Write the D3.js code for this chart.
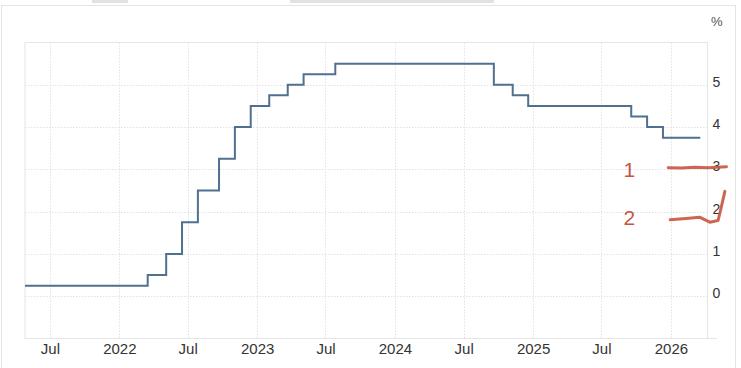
<!DOCTYPE html>
<html>
  <head>
    <meta charset="utf-8" />
    <title>Policy rate step chart</title>
    <script src="https://d3js.org/d3.v7.min.js"></script>
    <style>
      body {
        margin: 0;
        background: #fff;
        font-family: "Liberation Sans", Arial, sans-serif;
      }
      svg {
        display: block;
      }
      .grid line {
        stroke: #e3e3e3;
        stroke-dasharray: 1.5 1.5;
      }
      .tick-label {
        fill: #333;
      }
    </style>
  </head>
  <body>
    <svg width="741" height="368"></svg>

    <script>
      // rate changes (upper bound, %), step-after
      const changeDates = [
        "2021-04-26", "2022-03-17", "2022-05-05", "2022-06-16", "2022-07-28",
        "2022-09-22", "2022-11-03", "2022-12-15", "2023-02-02", "2023-03-23",
        "2023-05-04", "2023-07-27", "2024-09-19", "2024-11-08", "2024-12-19",
        "2025-09-18", "2025-10-30", "2025-12-11", "2026-03-20"
      ];
      const rateValues = [
        0.25, 0.5, 1.0, 1.75, 2.5,
        3.25, 4.0, 4.5, 4.75, 5.0,
        5.25, 5.5, 5.0, 4.75, 4.5,
        4.25, 4.0, 3.75, 3.75
      ];
      const yTicks = [0, 1, 2, 3, 4, 5];
      const xTickDates = [
        "2021-07-01", "2022-01-01", "2022-07-01", "2023-01-01", "2023-07-01",
        "2024-01-01", "2024-07-01", "2025-01-01", "2025-07-01", "2026-01-01"
      ];

      // hand-drawn red marks (date, value)
      const mark1Dates = ["2025-12-25", "2026-01-30", "2026-03-05", "2026-04-10", "2026-05-28"];
      const mark1Values = [3.04, 3.03, 3.05, 3.04, 3.06];
      const mark2Dates = ["2025-12-30", "2026-02-10", "2026-03-18", "2026-04-14", "2026-05-06", "2026-05-13", "2026-05-24"];
      const mark2Values = [1.81, 1.84, 1.87, 1.75, 1.79, 2.05, 2.48];
      const markLabels = ["1", "2"];
      const markLabelDate = "2025-09-13";
      const markLabelValues = [3.0, 1.85];

      const parse = d3.timeParse("%Y-%m-%d");
      const svg = d3.select("svg");

      const plot = { left: 25, right: 707.5, top: 42.5, bottom: 338.5 };

      const x = d3.scaleTime()
        .domain([parse("2021-04-26"), parse("2026-04-08")])
        .range([plot.left, plot.right]);
      const y = d3.scaleLinear()
        .domain([-1, 6])
        .range([plot.bottom, plot.top]);

      // page frame bits
      svg.append("rect")
        .attr("x", 1.5).attr("y", 5.5)
        .attr("width", 734).attr("height", 380)
        .attr("fill", "none").attr("stroke", "#e4e4e4");
      svg.append("rect").attr("x", 92).attr("y", 0).attr("width", 36).attr("height", 3).attr("fill", "#e2e2e2");
      svg.append("rect").attr("x", 290).attr("y", 0).attr("width", 204).attr("height", 3).attr("fill", "#e2e2e2");

      // grid
      const grid = svg.append("g").attr("class", "grid");
      grid.selectAll(".h")
        .data(yTicks)
        .join("line")
        .attr("x1", plot.left).attr("x2", plot.right)
        .attr("y1", d => Math.round(y(d)) + 0.5)
        .attr("y2", d => Math.round(y(d)) + 0.5);
      grid.selectAll(".v")
        .data(xTickDates.map(parse))
        .join("line")
        .attr("y1", plot.top).attr("y2", plot.bottom)
        .attr("x1", d => Math.round(x(d)) + 0.5)
        .attr("x2", d => Math.round(x(d)) + 0.5);

      // frame of plot
      svg.append("rect")
        .attr("x", plot.left).attr("y", plot.top)
        .attr("width", plot.right - plot.left)
        .attr("height", plot.bottom - plot.top)
        .attr("fill", "none")
        .attr("stroke", "#e6e6e6");
      svg.append("line")
        .attr("x1", plot.right).attr("x2", 717)
        .attr("y1", plot.bottom).attr("y2", plot.bottom)
        .attr("stroke", "#e6e6e6");

      // x axis labels
      const fmt = d => d.getMonth() === 0 ? d3.timeFormat("%Y")(d) : d3.timeFormat("%b")(d);
      const xAxis = d3.axisBottom(x)
        .tickValues(xTickDates.map(parse))
        .tickFormat(fmt)
        .tickSize(0)
        .tickPadding(5);
      const xg = svg.append("g")
        .attr("transform", `translate(0, ${plot.bottom})`)
        .call(xAxis);
      xg.select(".domain").remove();
      xg.selectAll("text")
        .attr("class", "tick-label")
        .style("font-size", "15px")
        .style("font-family", "'Liberation Sans', Arial, sans-serif");

      // y axis labels on the right
      const yAxis = d3.axisRight(y)
        .tickValues(yTicks)
        .tickFormat(d3.format("d"))
        .tickSize(0)
        .tickPadding(5);
      const yg = svg.append("g")
        .attr("transform", `translate(${plot.right}, 0)`)
        .call(yAxis);
      yg.select(".domain").remove();
      yg.selectAll("text")
        .attr("class", "tick-label")
        .attr("dy", "0.1em")
        .style("font-size", "14px")
        .style("font-family", "'Liberation Sans', Arial, sans-serif");

      svg.append("text")
        .attr("x", 711).attr("y", 26)
        .attr("fill", "#555")
        .style("font-size", "13px")
        .text("%");

      // step line
      const rates = changeDates.map((d, i) => ({ date: parse(d), value: rateValues[i] }));
      const line = d3.line()
        .x(d => x(d.date))
        .y(d => y(d.value))
        .curve(d3.curveStepAfter);
      svg.append("path")
        .datum(rates)
        .attr("fill", "none")
        .attr("stroke", "#4f7090")
        .attr("stroke-width", 2)
        .attr("d", line);

      // red annotations
      const red = "#c6553f";
      const markLine = d3.line()
        .x(d => x(d.date))
        .y(d => y(d.value))
        .curve(d3.curveLinear);
      [[mark1Dates, mark1Values], [mark2Dates, mark2Values]].forEach(([ds, vs]) => {
        const pts = ds.map((d, i) => ({ date: parse(d), value: vs[i] }));
        svg.append("path")
          .datum(pts)
          .attr("fill", "none")
          .attr("stroke", red)
          .attr("stroke-width", 3)
          .attr("stroke-linecap", "round")
          .attr("stroke-linejoin", "round")
          .attr("opacity", 0.9)
          .attr("d", markLine);
      });
      svg.selectAll(".mark-label")
        .data(markLabels)
        .join("text")
        .attr("x", x(parse(markLabelDate)))
        .attr("y", (d, i) => y(markLabelValues[i]))
        .attr("dy", "0.35em")
        .attr("text-anchor", "middle")
        .attr("fill", red)
        .style("font-size", "21px")
        .text(d => d);
    </script>
  </body>
</html>
